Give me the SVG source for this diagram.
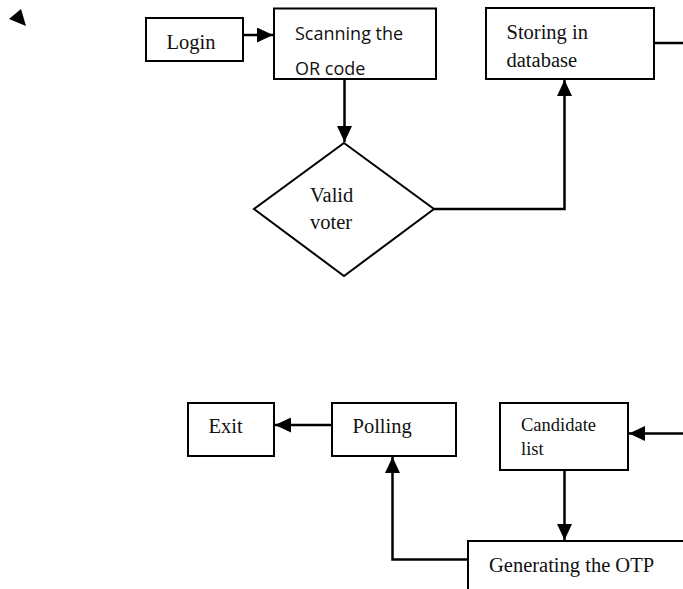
<svg xmlns="http://www.w3.org/2000/svg" width="683" height="589" viewBox="0 0 683 589">
<style>
.box{fill:#fff;stroke:#000;stroke-width:2}
.ln{fill:none;stroke:#000;stroke-width:2.5}
.serif{font-family:"Liberation Serif","Times New Roman",serif;font-size:20.5px;fill:#111}
.sans{font-family:"Open Sans","Liberation Sans",sans-serif;font-size:18px;fill:#111}
</style>
<defs>
<marker id="ah" markerUnits="userSpaceOnUse" markerWidth="16" markerHeight="15" refX="16" refY="7.5" orient="auto">
<path d="M0,0 L16,7.5 L0,15 z" fill="#000"/>
</marker>
</defs>
<rect width="683" height="589" fill="#fff"/>
<polygon points="9,19 21,9 26,26" fill="#000"/>
<g id="connectors">
<line class="ln" x1="243" y1="35" x2="273" y2="35" marker-end="url(#ah)"/>
<line class="ln" x1="344.5" y1="79" x2="344.5" y2="142" marker-end="url(#ah)"/>
<polyline class="ln" points="434,209 564.5,209 564.5,80" marker-end="url(#ah)"/>
<line class="ln" x1="654" y1="43" x2="683" y2="43"/>
<line class="ln" x1="683" y1="433.5" x2="629" y2="433.5" marker-end="url(#ah)"/>
<line class="ln" x1="564.5" y1="470" x2="564.5" y2="540" marker-end="url(#ah)"/>
<polyline class="ln" points="468,559.5 392.5,559.5 392.5,457" marker-end="url(#ah)"/>
<line class="ln" x1="331" y1="425" x2="275" y2="425" marker-end="url(#ah)"/>
</g>
<g id="login">
<rect class="box" x="146" y="18" width="97" height="43"/>
<text class="serif" x="166.5" y="49">Login</text>
</g>
<g id="scan">
<rect class="box" x="274" y="8.5" width="162" height="70.5"/>
<text class="sans" x="295" y="39.5">Scanning the</text>
<text class="sans" x="295" y="75">OR code</text>
</g>
<g id="store">
<rect class="box" x="486" y="8" width="168" height="71"/>
<text class="serif" x="506.5" y="38.5">Storing in</text>
<text class="serif" x="506.5" y="67">database</text>
</g>
<g id="valid">
<polygon class="box" points="344,143 434,209 344,276 254,209"/>
<text class="serif" x="310" y="201.5">Valid</text>
<text class="serif" x="310" y="229">voter</text>
</g>
<g id="exit">
<rect class="box" x="188" y="403" width="86" height="53"/>
<text class="serif" x="208.5" y="433">Exit</text>
</g>
<g id="polling">
<rect class="box" x="332" y="403" width="124" height="53"/>
<text class="serif" x="352.5" y="433">Polling</text>
</g>
<g id="candidate">
<rect class="box" x="500" y="403" width="128" height="67"/>
<text class="serif" x="521" y="431" style="font-size:18.5px">Candidate</text>
<text class="serif" x="521" y="455" style="font-size:18.5px">list</text>
</g>
<g id="otp">
<rect class="box" x="468" y="541" width="230" height="60"/>
<text class="serif" x="489" y="571.5">Generating the OTP</text>
</g>
</svg>
